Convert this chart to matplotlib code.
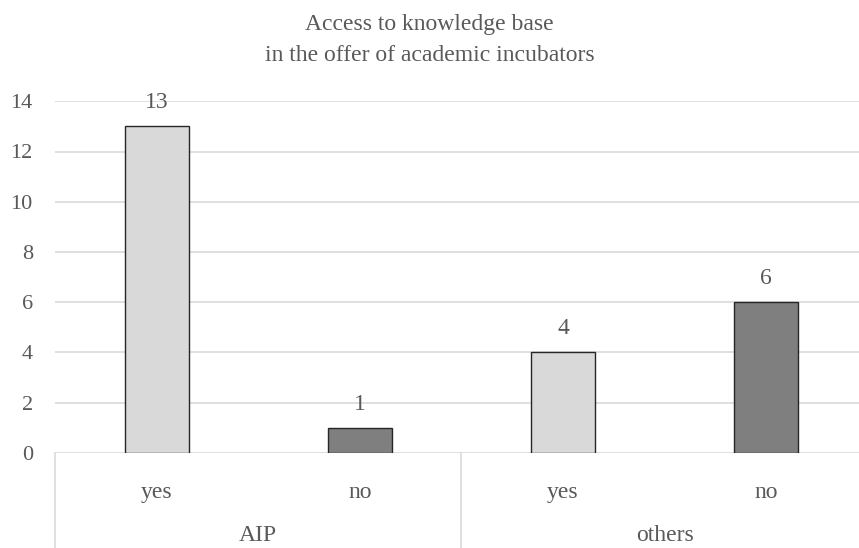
import numpy as np
import matplotlib
matplotlib.use("Agg")
import matplotlib.pyplot as plt
import matplotlib.transforms as mtransforms

plt.rcParams['font.family'] = ['Liberation Serif', 'DejaVu Serif']

# answers per incubator group
groups = ['AIP', 'others']
answers = ['yes', 'no', 'yes', 'no']
counts = [13, 1, 4, 6]
bar_colors = ['#d9d9d9', '#7f7f7f', '#d9d9d9', '#7f7f7f']
yticks = [0, 2, 4, 6, 8, 10, 12, 14]

TEXT = '#595959'
GRID = '#d9d9d9'
FS = 17

W, H = 859, 548
fig = plt.figure(figsize=(W / 100, H / 100), dpi=100)
# plot area in pixels: left 55, right edge of figure, y from 101 to 453
ax = fig.add_axes([55 / W, (H - 452.7) / H, (W - 55) / W, (452.7 - 101.3) / H])

x = np.arange(len(counts))
bars = ax.bar(x, counts, width=0.315, color=bar_colors,
              edgecolor='#262626', linewidth=1.0, zorder=3)

for rect, v in zip(bars, counts):
    ax.annotate(str(v), (rect.get_x() + rect.get_width() / 2, v),
                xytext=(0, 13), textcoords='offset points',
                ha='center', va='baseline', fontsize=FS, color=TEXT)

ax.set_xlim(-0.5, 3.457)
ax.set_ylim(0, 14)
ax.set_yticks(yticks)
ax.set_yticklabels([str(t) for t in yticks], fontsize=16, color=TEXT)
ax.tick_params(axis='y', length=0, pad=16)
ax.yaxis.grid(True, color=GRID, linewidth=1.2, zorder=0)
ax.set_axisbelow(True)
for s in ax.spines.values():
    s.set_visible(False)

# lower level: answer labels
ax.set_xticks(x)
ax.set_xticklabels(answers, fontsize=FS, color=TEXT)
ax.tick_params(axis='x', length=0, pad=21)

# upper level: group labels and separators
trans = mtransforms.blended_transform_factory(ax.transData, ax.transAxes)
bottom = -(H - 452.7) / (452.7 - 101.3)
for i, g in enumerate(groups):
    ax.text(2 * i + 0.5, -0.25, g, transform=trans, ha='center',
            va='baseline', fontsize=FS, color=TEXT, clip_on=False)
for sep in [-0.5, 1.5, 3.5]:
    ax.plot([sep, sep], [0, bottom], transform=trans, color=GRID,
            linewidth=1.2, clip_on=False)

fig.text(0.5, 1 - 30 / H, 'Access to knowledge base', ha='center',
         va='baseline', fontsize=FS, color=TEXT)
fig.text(0.5, 1 - 61 / H, 'in the offer of academic incubators', ha='center',
         va='baseline', fontsize=FS, color=TEXT)

fig.savefig('out.png', dpi=100)
